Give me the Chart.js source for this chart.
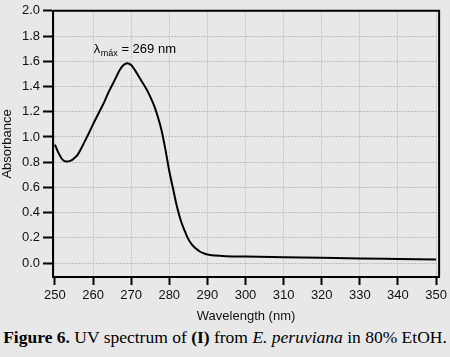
<!DOCTYPE html>
<html>
<head>
<meta charset="utf-8">
<script src="https://cdn.jsdelivr.net/npm/chart.js@4/dist/chart.umd.min.js"></script>
<style>
  html, body { margin: 0; padding: 0; background: #e8e8e8; width: 450px; height: 357px; overflow: hidden; }
  #wrap { position: absolute; left: 0; top: 0; width: 450px; height: 325px; }
  #caption { position: absolute; left: 0; top: 327px; width: 450px; text-align: center; line-height: 20px;
    font-family: "Liberation Serif", "Times New Roman", serif; font-size: 17.5px; color: #000; white-space: nowrap; }
</style>
</head>
<body>
<div id="wrap"><canvas id="c" width="450" height="325"></canvas></div>
<div id="caption"><b>Figure 6.</b> UV spectrum of <b>(I)</b> from <i>E. peruviana</i> in 80% EtOH.</div>
<script>
// Data
const wavelength = [250,251,252,253,254,255,256,257,258,259,260,261,262,263,264,265,266,267,268,269,270,271,272,273,274,275,276,277,278,279,280,281,282,283,284,285,286,287,288,289,290,292,295,300,310,320,330,340,350];
const absorbance = [0.94,0.87,0.82,0.805,0.81,0.83,0.86,0.915,0.975,1.035,1.10,1.16,1.22,1.28,1.35,1.41,1.47,1.53,1.57,1.585,1.57,1.53,1.48,1.43,1.38,1.32,1.25,1.16,1.05,0.90,0.73,0.59,0.45,0.34,0.26,0.19,0.145,0.115,0.092,0.078,0.068,0.060,0.055,0.052,0.047,0.042,0.037,0.033,0.029];
const xTicks = [250,260,270,280,290,300,310,320,330,340,350];
const yTicks = [0.0,0.2,0.4,0.6,0.8,1.0,1.2,1.4,1.6,1.8,2.0];
const annotationMain = "\u03BB";
const annotationSub = "m\u00E1x";
const annotationRest = " = 269 nm";
const annotationAt = { x: 260.2, y: 1.668 };

const points = wavelength.map((w, i) => ({ x: w, y: absorbance[i] }));
const FONT = "'Liberation Sans', Arial, sans-serif";

const framePlugin = {
  id: 'frame',
  afterDraw(chart) {
    const { ctx, chartArea: a } = chart;
    ctx.save();
    ctx.strokeStyle = '#000';
    ctx.lineWidth = 2;
    ctx.beginPath();
    ctx.moveTo(a.left, a.top); ctx.lineTo(a.right, a.top); ctx.lineTo(a.right, a.bottom);
    ctx.stroke();
    // annotation
    const x = chart.scales.x.getPixelForValue(annotationAt.x);
    const y = chart.scales.y.getPixelForValue(annotationAt.y);
    ctx.fillStyle = '#000';
    ctx.textBaseline = 'alphabetic';
    ctx.font = "13px " + FONT;
    ctx.fillText(annotationMain, x, y);
    let w = ctx.measureText(annotationMain).width;
    ctx.font = "9px " + FONT;
    ctx.fillText(annotationSub, x + w + 0.5, y + 3);
    w += ctx.measureText(annotationSub).width + 0.5;
    ctx.font = "13px " + FONT;
    ctx.fillText(annotationRest, x + w, y);
    ctx.restore();
  }
};

new Chart(document.getElementById('c'), {
  type: 'line',
  data: {
    datasets: [{
      data: points,
      borderColor: '#000',
      borderWidth: 2,
      pointRadius: 0,
      fill: false,
      cubicInterpolationMode: 'monotone'
    }]
  },
  options: {
    responsive: false,
    animation: false,
    devicePixelRatio: 1,
    layout: { padding: { top: 4, right: 10, left: 0, bottom: 1 } },
    plugins: { legend: { display: false }, tooltip: { enabled: false } },
    scales: {
      x: {
        type: 'linear',
        min: 249.5,
        max: 350.8,
        afterBuildTicks: s => { s.ticks = xTicks.map(v => ({ value: v })); },
        afterFit: s => { s.height = 47; },
        grid: { color: '#c6c6c6', lineWidth: 1, tickColor: '#000', tickWidth: 2, tickLength: 8, drawTicks: true },
        border: { display: true, color: '#000', width: 2, dash: [2, 1] },
        ticks: { color: '#111', font: { family: FONT, size: 13 }, padding: 3, maxRotation: 0, callback: v => String(v) },
        title: { display: true, text: 'Wavelength (nm)', color: '#111', font: { family: FONT, size: 13 }, padding: 0 }
      },
      y: {
        min: -0.11,
        max: 2.0,
        afterBuildTicks: s => { s.ticks = yTicks.map(v => ({ value: v })); },
        afterFit: s => { s.width = 53; },
        grid: { color: '#bdbdbd', lineWidth: 1, tickColor: '#000', tickWidth: 2, tickLength: 10, drawTicks: true },
        border: { display: true, color: '#000', width: 2, dash: [2, 1] },
        ticks: { color: '#111', font: { family: FONT, size: 13 }, padding: 3, callback: v => Number(v).toFixed(1) },
        title: { display: true, text: 'Absorbance', color: '#111', font: { family: FONT, size: 13 }, padding: 0 }
      }
    }
  },
  plugins: [framePlugin]
});
</script>
</body>
</html>
